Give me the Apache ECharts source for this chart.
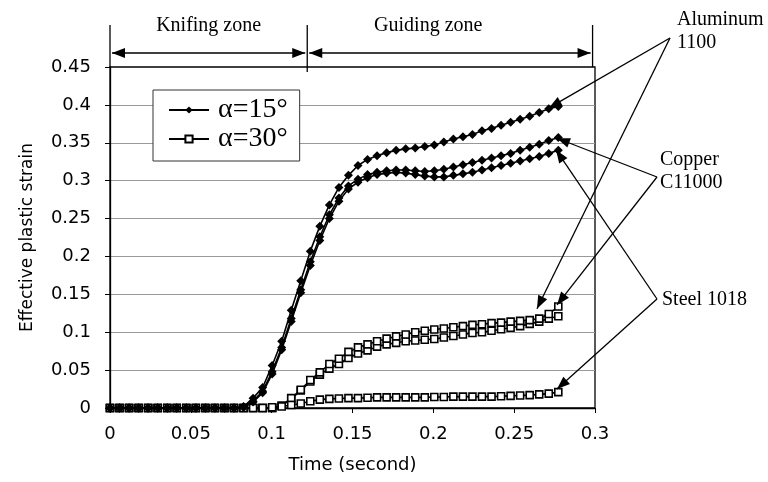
<!DOCTYPE html>
<html><head><meta charset="utf-8">
<script src="https://cdn.jsdelivr.net/npm/echarts@6/dist/echarts.min.js"></script>
<style>html,body{margin:0;padding:0;background:#fff}#c{width:768px;height:482px}</style>
</head><body><div id="c"></div>
<script>
// ---- data ----
const time = [0,0.0059,0.0118,0.0177,0.0236,0.0295,0.0354,0.0413,0.0472,0.0531,0.059,0.0649,0.0708,0.0767,0.0826,0.0885,0.0944,0.1003,0.1062,0.1121,0.118,0.1239,0.1298,0.1357,0.1416,0.1475,0.1534,0.1593,0.1652,0.1711,0.177,0.1829,0.1888,0.1947,0.2006,0.2065,0.2124,0.2183,0.2242,0.2301,0.236,0.2419,0.2478,0.2537,0.2596,0.2655,0.2714,0.2773];
const al15 = [0,0,0,0,0,0,0,0,0,0,0,0,0,0,0.002,0.013,0.027,0.056,0.088,0.129,0.168,0.207,0.24,0.268,0.291,0.307,0.32,0.328,0.333,0.337,0.34,0.342,0.343,0.345,0.347,0.351,0.355,0.358,0.361,0.366,0.369,0.373,0.377,0.381,0.385,0.39,0.395,0.398];
const cu15 = [0,0,0,0,0,0,0,0,0,0,0,0,0,0,0.001,0.009,0.022,0.048,0.08,0.118,0.156,0.193,0.226,0.255,0.277,0.293,0.302,0.308,0.311,0.313,0.314,0.314,0.313,0.312,0.313,0.315,0.318,0.321,0.324,0.327,0.33,0.333,0.336,0.34,0.344,0.348,0.353,0.357];
const st15 = [0,0,0,0,0,0,0,0,0,0,0,0,0,0,0.001,0.008,0.02,0.045,0.077,0.114,0.152,0.188,0.221,0.25,0.273,0.289,0.298,0.304,0.308,0.31,0.311,0.31,0.308,0.306,0.305,0.305,0.307,0.309,0.311,0.314,0.317,0.32,0.323,0.326,0.329,0.332,0.336,0.34];
const al30 = [0,0,0,0,0,0,0,0,0,0,0,0,0,0,0,0,0,0,0.003,0.012,0.023,0.035,0.044,0.052,0.058,0.066,0.072,0.076,0.081,0.084,0.086,0.088,0.089,0.09,0.091,0.093,0.095,0.097,0.099,0.1,0.102,0.104,0.106,0.108,0.111,0.114,0.118,0.121];
const cu30 = [0,0,0,0,0,0,0,0,0,0,0,0,0,0,0,0,0,0,0.003,0.013,0.024,0.037,0.047,0.058,0.065,0.074,0.08,0.084,0.088,0.0915,0.0945,0.097,0.1,0.102,0.1035,0.105,0.1065,0.108,0.1097,0.1105,0.112,0.1127,0.114,0.115,0.116,0.118,0.124,0.134];
const st30 = [0,0,0,0,0,0,0,0,0,0,0,0,0,0,0,0,0,0.001,0.002,0.004,0.006,0.009,0.011,0.012,0.0125,0.013,0.013,0.0135,0.014,0.014,0.014,0.014,0.014,0.014,0.0145,0.0145,0.015,0.015,0.015,0.015,0.015,0.0155,0.016,0.0165,0.017,0.018,0.019,0.021];
const xTickLabels = ['0','0.05','0.1','0.15','0.2','0.25','0.3'];
const yTickLabels = ['0','0.05','0.1','0.15','0.2','0.25','0.3','0.35','0.4','0.45'];
const legendNames = ['α=15°','α=30°'];
const zoneEdges = [0, 0.122, 0.2985];
const zoneNames = ['Knifing zone','Guiding zone'];
const materialNames = [['Aluminum','1100'],['Copper','C11000'],['Steel 1018']];
// arrow tips in data coordinates [time, strain]
const arrowTips = [
  [[0.2715,0.396],[0.2641,0.131]],
  [[0.2765,0.356],[0.2765,0.136]],
  [[0.2759,0.3405],[0.2765,0.025]]
];

const chart = echarts.init(document.getElementById('c'), null, {renderer:'canvas'});
const pairs = ys => time.map((t,i)=>[t, ys[i]]);
const sans = 'DejaVu Sans';
const serif = 'Liberation Serif';

function s15(id, ys){
  return {id, type:'line', name:legendNames[0], data:pairs(ys), symbol:'diamond', symbolSize:9, showAllSymbol:true,
    lineStyle:{color:'#000', width:1.6}, itemStyle:{color:'#000'}, z:3, emphasis:{disabled:true}};
}
function s30(id, ys){
  return {id, type:'line', name:legendNames[1], data:pairs(ys), symbol:'rect', symbolSize:7, showAllSymbol:true,
    lineStyle:{color:'#000', width:1.6}, itemStyle:{color:'#fff', borderColor:'#000', borderWidth:1.6}, z:2, emphasis:{disabled:true}};
}

const option = {
  animation:false,
  backgroundColor:'#fff',
  grid:{left:110, right:173, top:67, bottom:74, show:true, borderColor:'#000', borderWidth:1.3, backgroundColor:'transparent'},
  legend:{
    data:legendNames, left:153, top:90, orient:'vertical', selectedMode:false,
    itemWidth:40, itemHeight:9, itemGap:1, padding:[6,12,8,15],
    borderColor:'#333', borderWidth:1, backgroundColor:'#fff',
    textStyle:{fontFamily:serif, fontSize:28, lineHeight:24, color:'#000', padding:[0,0,0,4]}
  },
  xAxis:{
    type:'value', min:0, max:0.3, interval:0.05,
    name:'Time (second)', nameLocation:'middle', nameGap:48,
    nameTextStyle:{fontFamily:sans, fontSize:18, color:'#000'},
    axisLine:{lineStyle:{color:'#000', width:1.3}},
    axisTick:{show:true, length:5, lineStyle:{color:'#000'}},
    axisLabel:{fontFamily:sans, fontSize:18, color:'#000', margin:17,
      formatter:v=>xTickLabels[Math.round(v/0.05)]},
    splitLine:{show:false}
  },
  yAxis:{
    type:'value', min:0, max:0.45, interval:0.05,
    name:'Effective plastic strain', nameLocation:'middle', nameGap:74,
    nameTextStyle:{fontFamily:sans, fontSize:17, color:'#000'},
    axisLine:{show:true, lineStyle:{color:'#000', width:1.3}},
    axisTick:{show:true, length:5, lineStyle:{color:'#000'}},
    axisLabel:{fontFamily:sans, fontSize:18, color:'#000', margin:19,
      formatter:v=>yTickLabels[Math.round(v/0.05)]},
    splitLine:{show:true, showMinLine:false, showMaxLine:false, lineStyle:{color:'#999', width:1.2}}
  },
  series:[
    s30('al30', al30), s30('cu30', cu30), s30('st30', st30),
    s15('al15', al15), s15('cu15', cu15), s15('st15', st15)
  ]
};
chart.setOption(option);

// ---- annotations (positions derived from the axes) ----
const P = (t,v)=>chart.convertToPixel({gridIndex:0},[t,v]);
const gTop = P(0,0.45)[1];
const els = [];
const line = (a,b)=>els.push({type:'polyline', silent:true, z:50, shape:{points:[a,b]}, style:{stroke:'#000', lineWidth:1.3, fill:null}});
function head(tip, from, h=13, w=10){
  const dx=tip[0]-from[0], dy=tip[1]-from[1], L=Math.hypot(dx,dy);
  const ux=dx/L, uy=dy/L, nx=-uy, ny=ux;
  const bx=tip[0]-ux*h, by=tip[1]-uy*h;
  els.push({type:'polygon', silent:true, z:51, shape:{points:[tip,[bx+nx*w/2,by+ny*w/2],[bx-nx*w/2,by-ny*w/2]]}, style:{fill:'#000'}});
}
function arrow(from, tip){ line(from, tip); head(tip, from); }
function text(str, x, y, align){
  els.push({type:'text', silent:true, z:52, x, y, style:{text:str, font:'20px "'+serif+'"', fill:'#000', align:align||'left', verticalAlign:'middle'}});
}

// zone boundaries and double arrows
const zx = zoneEdges.map(t=>P(t,0)[0]);
const zTop = 25, arrowY = 53;
line([zx[0], zTop],[zx[0], gTop]);
line([zx[1], zTop],[zx[1], gTop+5]);
line([zx[2], zTop],[zx[2], gTop]);
for (let i=0;i<2;i++){
  const a=[zx[i]+2, arrowY], b=[zx[i+1]-2, arrowY];
  line(a,b); head(a,b); head(b,a);
}
text(zoneNames[0], (zx[0]+zx[1])/2, 26, 'center');
text(zoneNames[1], zx[1]+121, 26, 'center');

// material labels with arrows
const anchors = [[670,38],[657,177],[657,299]];
const labelPos = [[677,20,43],[660,160,183],[662,300]];
materialNames.forEach((names,i)=>{
  names.forEach((n,j)=>text(n, labelPos[i][0], labelPos[i][1+j]));
  arrowTips[i].forEach(tp=>arrow(anchors[i], P(tp[0],tp[1])));
});
chart.setOption({graphic:els});
</script>
</body></html>
